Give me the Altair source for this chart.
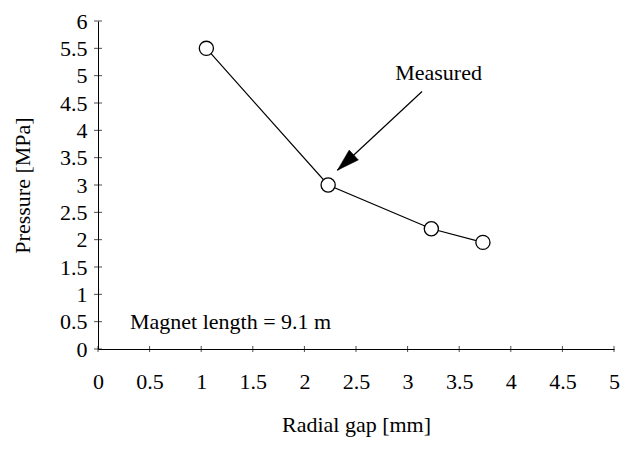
import altair as alt
import pandas as pd

# Data
gap_mm = [1.05, 2.23, 3.23, 3.73]
pressure_mpa = [5.5, 3.0, 2.2, 1.95]

x_tick_values = [0, 0.5, 1, 1.5, 2, 2.5, 3, 3.5, 4, 4.5, 5]
y_tick_values = [0, 0.5, 1, 1.5, 2, 2.5, 3, 3.5, 4, 4.5, 5, 5.5, 6]

note_text = ["Magnet length = 9.1 m"]
note_x = [0.31]
note_y = [0.5]

label_text = ["Measured"]
label_x = [3.3]
label_y = [5.05]

arrow_tail_x = [3.14]
arrow_tail_y = [4.71]
arrow_tip_x = [2.32]
arrow_tip_y = [3.27]

FONT = "'Liberation Serif', 'Times New Roman', 'DejaVu Serif', serif"

df = pd.DataFrame({"gap": gap_mm, "p": pressure_mpa})
xt = pd.DataFrame({"gap": x_tick_values, "p": [0] * len(x_tick_values)})
yt = pd.DataFrame({"gap": [0] * len(y_tick_values), "p": y_tick_values})
note = pd.DataFrame({"gap": note_x, "p": note_y, "t": note_text})
lab = pd.DataFrame({"gap": label_x, "p": label_y, "t": label_text})
arr = pd.DataFrame({"gap": arrow_tail_x, "p": arrow_tail_y,
                    "gap2": arrow_tip_x, "p2": arrow_tip_y})
tip = pd.DataFrame({"gap": arrow_tip_x, "p": arrow_tip_y})

xs = alt.Scale(domain=[0, 5], nice=False, zero=False)
ys = alt.Scale(domain=[0, 6], nice=False, zero=False)

xaxis = alt.Axis(values=x_tick_values, title="Radial gap [mm]", grid=False,
                 tickSize=0, labelPadding=22, domainColor="black", domainWidth=1,
                 labelFont=FONT, labelFontSize=22, labelColor="black",
                 titleFont=FONT, titleFontSize=22, titleFontWeight="normal",
                 titleColor="black", titleX=258, titleY=75,
                 titleBaseline="middle", titleAlign="center",
                 labelExpr="datum.value", labelFlush=False)
yaxis = alt.Axis(values=y_tick_values, title="Pressure [MPa]", grid=False,
                 tickSize=0, labelPadding=11, domainColor="black", domainWidth=1,
                 labelFont=FONT, labelFontSize=22, labelColor="black",
                 titleFont=FONT, titleFontSize=22, titleFontWeight="normal",
                 titleColor="black", titleX=-76, titleY=164, titleAngle=270,
                 titleBaseline="middle", titleAlign="center",
                 labelExpr="datum.value", labelFlush=False)


def X(field="gap"):
    return alt.X(field, type="quantitative", scale=xs, axis=xaxis)


def Y(field="p"):
    return alt.Y(field, type="quantitative", scale=ys, axis=yaxis)


line = alt.Chart(df).mark_line(color="black", strokeWidth=1.2).encode(x=X(), y=Y())
pts = alt.Chart(df).mark_point(shape="circle", size=200, filled=True, fill="white",
                               stroke="black", strokeWidth=1.3, opacity=1).encode(x=X(), y=Y())
xticks = alt.Chart(xt).mark_tick(orient="vertical", size=6, thickness=1,
                                 color="black").encode(x=X(), y=Y())
yticks = alt.Chart(yt).mark_tick(orient="horizontal", size=8, thickness=1,
                                 color="black").encode(x=X(), y=Y())
note_m = alt.Chart(note).mark_text(font=FONT, fontSize=22, align="left",
                                   baseline="middle", color="black").encode(
    x=X(), y=Y(), text="t:N")
lab_m = alt.Chart(lab).mark_text(font=FONT, fontSize=22, align="center",
                                 baseline="middle", color="black").encode(
    x=X(), y=Y(), text="t:N")
arrow_line = alt.Chart(arr).mark_rule(color="black", strokeWidth=1.2).encode(
    x=X(), y=Y(), x2="gap2", y2="p2")
arrow_head = alt.Chart(tip).mark_point(shape="M0,0L0.3,1L-0.3,1Z", size=2000,
                                       filled=True, fill="black", stroke="black",
                                       strokeWidth=0.5, opacity=1,
                                       angle=227).encode(x=X(), y=Y())

chart = alt.layer(line, pts, xticks, yticks, note_m, lab_m, arrow_line, arrow_head).properties(
    width=516, height=328,
    autosize=alt.AutoSizeParams(type="none"),
    padding={"left": 90, "top": 13, "right": 7, "bottom": 94},
    background="white",
).configure_view(stroke=None)

chart.save("out.html", embed_options={"renderer": "svg", "actions": False})
